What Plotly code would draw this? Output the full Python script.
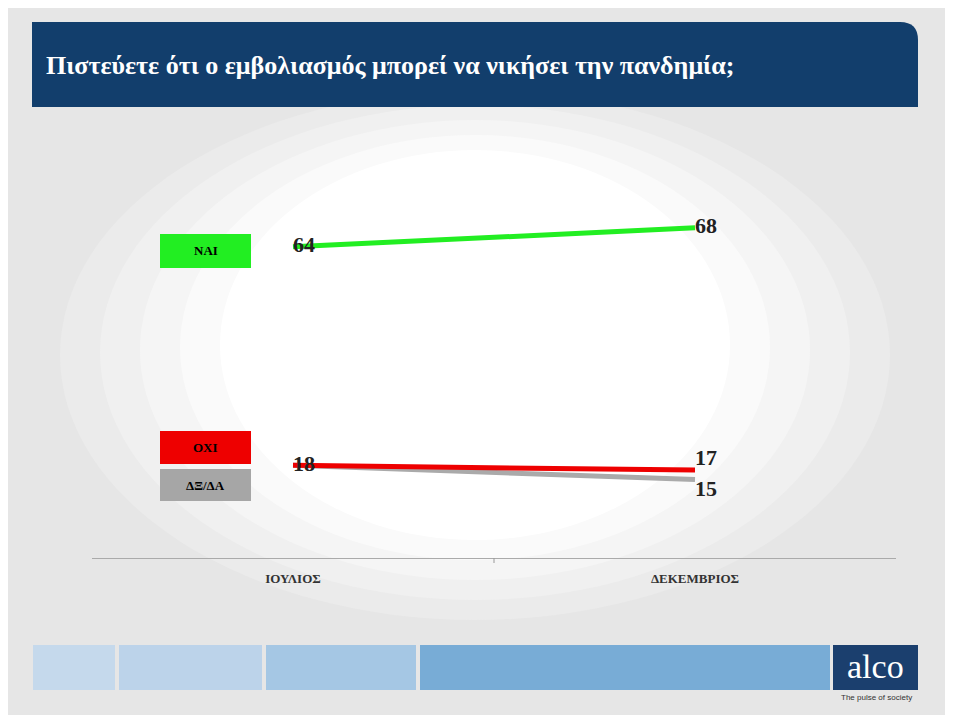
import plotly.graph_objects as go

months = ["ΙΟΥΛΙΟΣ", "ΔΕΚΕΜΒΡΙΟΣ"]
nai = [64, 68]
oxi = [18, 17]
dxda = [18, 15]

O = 8  # page margin offset
W, H = 953 - O, 715 - O
L, R, T, B = 92 - O, 896 - O, 130 - O, 558 - O

def px(x):
    return (x - O - L) / (R - L)

def py(y):
    return (B - (y - O)) / (B - T)

fig = go.Figure()
tf = dict(family="Liberation Serif", size=22, color="#222222")
fig.add_trace(go.Scatter(x=months, y=dxda, mode="lines+text", line=dict(color="#aaaaaa", width=5),
                         text=["", "<b>15</b>"], textposition=["middle right", "bottom right"], textfont=tf))
fig.add_trace(go.Scatter(x=months, y=oxi, mode="lines+text", line=dict(color="#ee0000", width=5),
                         text=["<b>18</b>", "<b>17</b>"], textposition=["middle right", "top right"], textfont=tf))
fig.add_trace(go.Scatter(x=months, y=nai, mode="lines+text", line=dict(color="#22ee22", width=5),
                         text=["<b>64</b>", "<b>68</b>"], textposition=["middle right", "middle right"], textfont=tf))

shapes = []
# soft white background spot
for (x0, x1, y0, y1, c) in [(60, 890, 620, 90, "#ebebeb"), (100, 850, 600, 105, "#f0f0f0"),
                            (140, 810, 580, 120, "#f5f5f5"), (180, 770, 560, 135, "#fafafa"),
                            (220, 730, 540, 150, "white")]:
    shapes.append(dict(type="circle", xref="paper", yref="paper", layer="below",
                       x0=px(x0), x1=px(x1), y0=py(y0), y1=py(y1),
                       fillcolor=c, line=dict(width=0)))
# header
shapes.append(dict(type="path", xref="paper", yref="paper", layer="above",
                   path="M {} {} L {} {} L {} {} Q {} {} {} {} L {} {} Z".format(
                       px(32), py(107), px(32), py(22), px(900), py(22),
                       px(918), py(22), px(918), py(40), px(918), py(107)),
                   fillcolor="#123e6c", line=dict(width=0)))
# legend boxes
boxes = [("ΝΑΙ", 234, 268, "#22ee22"), ("ΟΧΙ", 431, 464, "#ee0000"), ("ΔΞ/ΔΑ", 469, 501, "#a6a6a6")]
ann = []
for lab, y0, y1, c in boxes:
    shapes.append(dict(type="rect", xref="paper", yref="paper", x0=px(160), x1=px(251),
                       y0=py(y1), y1=py(y0), fillcolor=c, line=dict(width=0)))
    ann.append(dict(text="<b>" + lab + "</b>", xref="paper", yref="paper", x=px(205.5), y=py((y0 + y1) / 2),
                    xanchor="center", yanchor="middle", showarrow=False,
                    font=dict(family="Liberation Serif", size=13, color="black")))
# bottom bars
for x0, x1, c in [(33, 115, "#c5d9ec"), (119, 262, "#bcd3ea"), (266, 416, "#a5c7e4"), (420, 830, "#78acd6"), (833, 918, "#1b3f6e")]:
    shapes.append(dict(type="rect", xref="paper", yref="paper", x0=px(x0), x1=px(x1),
                       y0=py(690), y1=py(645), fillcolor=c, line=dict(width=0)))
# tick mark in middle
shapes.append(dict(type="line", xref="paper", yref="paper", x0=0.5, x1=0.5, y0=py(558), y1=py(563),
                   line=dict(color="#999999", width=1)))

ann.append(dict(text="<b>Πιστεύετε ότι ο εμβολιασμός μπορεί να νικήσει την πανδημία;</b>", xref="paper", yref="paper",
                x=px(44), y=py(65), xanchor="left", yanchor="middle", showarrow=False,
                font=dict(family="Liberation Serif", size=26, color="white")))
ann.append(dict(text="alco", xref="paper", yref="paper", x=px(875), y=py(666), xanchor="center", yanchor="middle",
                showarrow=False, font=dict(family="Liberation Serif", size=34, color="white")))
ann.append(dict(text="The pulse of society", xref="paper", yref="paper", x=px(876), y=py(697), xanchor="center",
                yanchor="middle", showarrow=False, font=dict(family="Liberation Sans", size=8, color="#333333")))

fig.update_layout(
    width=W, height=H, margin=dict(l=L, r=W - R, t=T, b=H - B),
    paper_bgcolor="#e6e6e6", plot_bgcolor="rgba(0,0,0,0)", showlegend=False,
    shapes=shapes, annotations=ann,
    xaxis=dict(type="category", range=[-0.5, 1.5], showgrid=False, showline=True, linecolor="#aaaaaa",
               ticks="", tickfont=dict(family="Liberation Serif", size=13, color="#333333"), ticklabelstandoff=8,
               tickvals=months, ticktext=["<b>" + m + "</b>" for m in months]),
    yaxis=dict(range=[-1.5, 88.6], visible=False),
)
fig.write_html("out.html")
